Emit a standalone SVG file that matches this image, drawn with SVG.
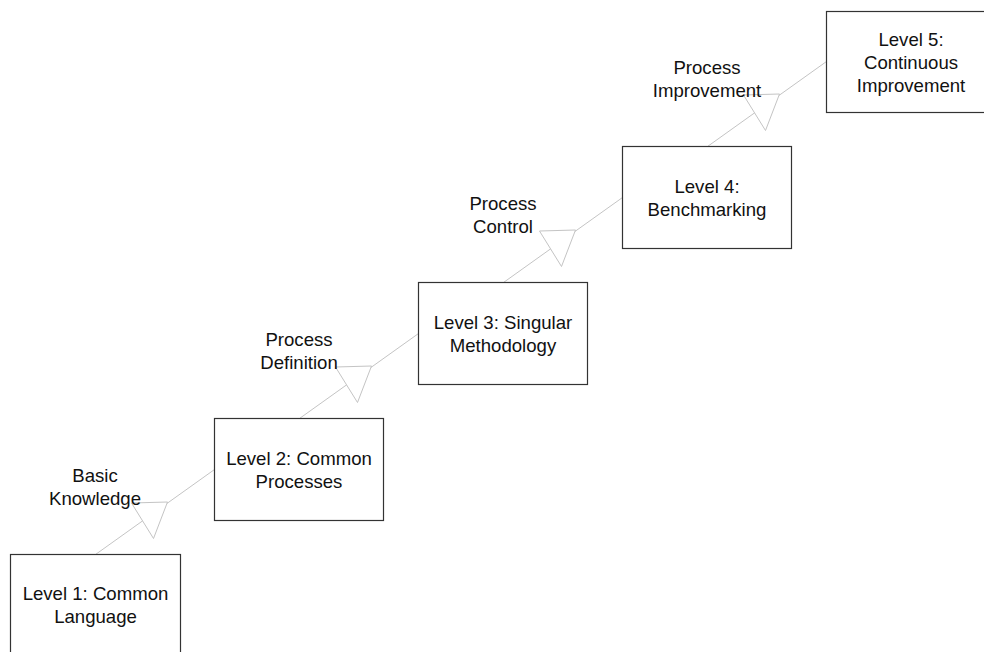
<svg xmlns="http://www.w3.org/2000/svg" xmlns:xlink="http://www.w3.org/1999/xlink" width="984" height="652" viewBox="0 0 984 652">
  <style>
    .box { fill: #ffffff; stroke: #333333; stroke-width: 1.2; }
    .txt { font-family: "Liberation Sans", Arial, sans-serif; font-size: 18.6px; fill: #111111; text-anchor: middle; }
    .wire { fill: none; stroke: #c4c4c4; stroke-width: 1; }
    .head { fill: #ffffff; stroke: #c4c4c4; stroke-width: 1; stroke-linejoin: miter; }
  </style>
  <defs>
    <!-- one step link, drawn relative to the top-left corner of the lower box -->
    <g id="step-link">
      <line class="wire" x1="85" y1="0" x2="204" y2="-85"/>
      <polygon class="head" points="121,-51.5 157,-52.5 143,-16"/>
    </g>
  </defs>

  <rect width="984" height="652" fill="#ffffff"/>

  <!-- connectors between levels -->
  <g id="connectors">
    <use xlink:href="#step-link" href="#step-link" transform="translate(10.5,554.5)"/>
    <use xlink:href="#step-link" href="#step-link" transform="translate(214.5,418.5)"/>
    <use xlink:href="#step-link" href="#step-link" transform="translate(418.5,282.5)"/>
    <use xlink:href="#step-link" href="#step-link" transform="translate(622.5,146.5)"/>
    <text class="txt" x="95" y="482">Basic</text>
    <text class="txt" x="95" y="505">Knowledge</text>
    <text class="txt" x="299" y="346">Process</text>
    <text class="txt" x="299" y="369">Definition</text>
    <text class="txt" x="503" y="210">Process</text>
    <text class="txt" x="503" y="233">Control</text>
    <text class="txt" x="707" y="74">Process</text>
    <text class="txt" x="707" y="97">Improvement</text>
  </g>

  <g id="level1">
    <rect class="box" x="10.5" y="554.5" width="170" height="102"/>
    <text class="txt" x="95.5" y="600">Level 1: Common</text>
    <text class="txt" x="95.5" y="623">Language</text>
  </g>

  <g id="level2">
    <rect class="box" x="214.5" y="418.5" width="169" height="102"/>
    <text class="txt" x="299" y="465">Level 2: Common</text>
    <text class="txt" x="299" y="488">Processes</text>
  </g>

  <g id="level3">
    <rect class="box" x="418.5" y="282.5" width="169" height="102"/>
    <text class="txt" x="503" y="329">Level 3: Singular</text>
    <text class="txt" x="503" y="352">Methodology</text>
  </g>

  <g id="level4">
    <rect class="box" x="622.5" y="146.5" width="169" height="102"/>
    <text class="txt" x="707" y="193">Level 4:</text>
    <text class="txt" x="707" y="216">Benchmarking</text>
  </g>

  <g id="level5">
    <rect class="box" x="826.5" y="11.5" width="170" height="101"/>
    <text class="txt" x="911" y="46">Level 5:</text>
    <text class="txt" x="911" y="69">Continuous</text>
    <text class="txt" x="911" y="92">Improvement</text>
  </g>
</svg>
